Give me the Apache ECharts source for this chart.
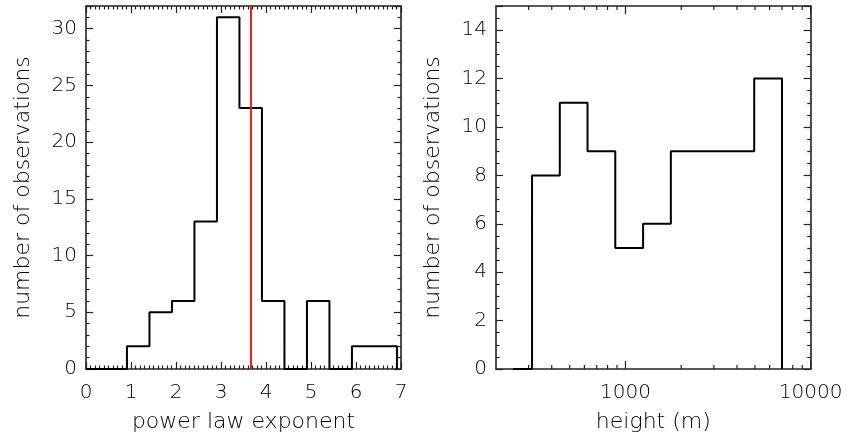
<!DOCTYPE html>
<html>
<head>
<meta charset="utf-8">
<script src="https://cdn.jsdelivr.net/npm/echarts@6/dist/echarts.min.js"></script>
<style>
html,body{margin:0;padding:0;background:#fff;}
#chart{width:849px;height:440px;}
</style>
</head>
<body>
<div id="chart"></div>
<script>
// ---- Data ----
// Left panel: power law exponent histogram (bin edges and counts per bin)
const exponentEdges = [0, 0.91, 1.41, 1.91, 2.41, 2.91, 3.41, 3.91, 4.41, 4.91, 5.41, 5.91, 6.41, 6.91];
const exponentCounts = [0, 2, 5, 6, 13, 31, 23, 6, 0, 6, 0, 2, 2];
const exponentMarker = 3.66;

// Right panel: height histogram (bin edges in m, counts per bin)
const heightEdges = [247, 313, 442, 624, 881, 1245, 1758, 2483, 3508, 4955, 7000];
const heightCounts = [0, 8, 11, 9, 5, 6, 9, 9, 9, 12];
const heightMajorTicks = [1000, 10000];
const heightMinorTicks = [300, 400, 500, 600, 700, 800, 900, 2000, 3000, 4000, 5000, 6000, 7000, 8000, 9000];

function stepPoints(edges, counts) {
  const pts = [];
  for (let i = 0; i < counts.length; i++) pts.push([edges[i], counts[i]]);
  pts.push([edges[edges.length - 1], 0]);
  return pts;
}

const FONT = 'DejaVu Sans';
const TXT = '#000';
const AX = '#222';
const labelStyle = { color: TXT, fontFamily: FONT, fontSize: 20, fontWeight: 200 };
const nameStyle = { color: TXT, fontFamily: FONT, fontSize: 22, fontWeight: 200 };

function linAxis(extra) {
  return Object.assign({
    type: 'value',
    splitLine: { show: false },
    axisLine: { show: true, onZero: false, lineStyle: { color: AX, width: 1.6 } },
    axisTick: { show: true, inside: true, length: 7, lineStyle: { color: AX, width: 1.2 } },
    minorTick: { show: true, length: 3.5, lineStyle: { color: AX, width: 1.2 } },
    axisLabel: Object.assign({ show: true, margin: 14 }, labelStyle),
    nameTextStyle: nameStyle
  }, extra);
}

function logAxis(extra) {
  return Object.assign({
    type: 'log',
    logBase: 10,
    min: 200,
    max: 10000,
    gridIndex: 1,
    splitLine: { show: false },
    minorTick: { show: false },
    axisLine: { show: true, onZero: false, lineStyle: { color: AX, width: 1.6 } },
    axisTick: { show: false },
    axisLabel: { show: false },
    nameTextStyle: nameStyle
  }, extra);
}

// tick marks + labels of the log axis, placed through the axis scale
const heightTickData = heightMajorTicks.map(v => [v, 1]).concat(heightMinorTicks.map(v => [v, 0]));

function renderLogTick(params, api) {
  const v = api.value(0);
  const major = api.value(1) === 1;
  const len = major ? 8 : 4;
  const pb = api.coord([v, 0]);
  const pt = api.coord([v, 15]);
  const children = [
    { type: 'line', shape: { x1: pb[0], y1: pb[1], x2: pb[0], y2: pb[1] - len },
      style: { stroke: AX, lineWidth: 1.2 } },
    { type: 'line', shape: { x1: pt[0], y1: pt[1], x2: pt[0], y2: pt[1] + len },
      style: { stroke: AX, lineWidth: 1.2 } }
  ];
  if (major) {
    children.push({
      type: 'text',
      style: {
        text: String(v), x: pb[0], y: pb[1] + 14,
        align: 'center', verticalAlign: 'top',
        textAlign: 'center', textVerticalAlign: 'top',
        fill: TXT, font: '200 20px "DejaVu Sans"'
      }
    });
  }
  return { type: 'group', children: children };
}

const chart = echarts.init(document.getElementById('chart'), null, { renderer: 'canvas' });
chart.setOption({
  animation: false,
  backgroundColor: '#fff',
  grid: [
    { left: 86, top: 6, width: 315, height: 363 },
    { left: 496, top: 6, width: 314.7, height: 363 }
  ],
  xAxis: [
    linAxis({ gridIndex: 0, position: 'bottom', min: 0, max: 7, interval: 1,
      minorTick: { show: true, splitNumber: 10, length: 3.5, lineStyle: { color: AX, width: 1.2 } },
      name: 'power law exponent', nameLocation: 'middle', nameGap: 42 }),
    linAxis({ gridIndex: 0, position: 'top', min: 0, max: 7, interval: 1,
      minorTick: { show: true, splitNumber: 10, length: 3.5, lineStyle: { color: AX, width: 1.2 } },
      axisLabel: { show: false } }),
    logAxis({ position: 'bottom', name: 'height (m)', nameLocation: 'middle', nameGap: 42 }),
    logAxis({ position: 'top' })
  ],
  yAxis: [
    linAxis({ gridIndex: 0, position: 'left', min: 0, max: 32, interval: 5,
      minorTick: { show: true, splitNumber: 5, length: 3.5, lineStyle: { color: AX, width: 1.2 } },
      axisLabel: Object.assign({ show: true, margin: 9, showMaxLabel: false }, labelStyle),
      name: 'number of observations', nameLocation: 'middle', nameGap: 52 }),
    linAxis({ gridIndex: 0, position: 'right', min: 0, max: 32, interval: 5,
      minorTick: { show: true, splitNumber: 5, length: 3.5, lineStyle: { color: AX, width: 1.2 } },
      axisLabel: { show: false } }),
    linAxis({ gridIndex: 1, position: 'left', min: 0, max: 15, interval: 2,
      minorTick: { show: true, splitNumber: 4, length: 3.5, lineStyle: { color: AX, width: 1.2 } },
      axisLabel: Object.assign({ show: true, margin: 9, showMaxLabel: false }, labelStyle),
      name: 'number of observations', nameLocation: 'middle', nameGap: 52 }),
    linAxis({ gridIndex: 1, position: 'right', min: 0, max: 15, interval: 2,
      minorTick: { show: true, splitNumber: 4, length: 3.5, lineStyle: { color: AX, width: 1.2 } },
      axisLabel: { show: false } })
  ],
  series: [
    {
      type: 'line', xAxisIndex: 0, yAxisIndex: 0, step: 'end', symbol: 'none',
      lineStyle: { color: '#000', width: 2 },
      data: stepPoints(exponentEdges, exponentCounts),
      markLine: {
        silent: true, symbol: 'none', label: { show: false },
        lineStyle: { color: '#ff1a1a', width: 2, type: 'solid' },
        data: [{ xAxis: exponentMarker }]
      }
    },
    {
      type: 'line', xAxisIndex: 2, yAxisIndex: 2, step: 'end', symbol: 'none',
      lineStyle: { color: '#000', width: 2 },
      data: stepPoints(heightEdges, heightCounts)
    },
    {
      type: 'custom', xAxisIndex: 2, yAxisIndex: 2, clip: false, silent: true,
      renderItem: renderLogTick,
      data: heightTickData
    }
  ]
});
</script>
</body>
</html>
